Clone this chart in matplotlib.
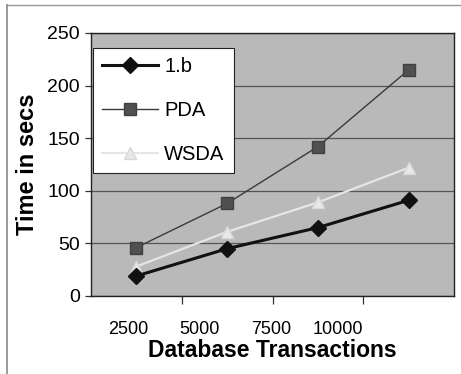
import matplotlib
matplotlib.use("Agg")
import matplotlib.pyplot as plt
from matplotlib.lines import Line2D

# data
categories = ["2500", "5000", "7500", "10000"]
series_1b = [19, 45, 65, 91]
series_pda = [46, 88, 142, 215]
series_wsda = [28, 61, 89, 122]
y_ticks = [0, 50, 100, 150, 200, 250]

plt.rcParams['font.family'] = ['Liberation Sans', 'DejaVu Sans']

fig = plt.figure(figsize=(4.61, 3.74), dpi=100)
ax = fig.add_axes([0.1974, 0.2086, 0.7876, 0.7032])
ax.set_facecolor('#b9b9b9')

x = list(range(len(categories)))

ax.plot(x, series_pda, color='#3a3a3a', lw=1.0, marker='s', ms=8,
        mfc='#505050', mec='#404040', label='PDA', zorder=3)
ax.plot(x, series_wsda, color='#e6e6e6', lw=1.6, marker='^', ms=8,
        mfc='#e8e8e8', mec='#d8d8d8', label='WSDA', zorder=3)
ax.plot(x, series_1b, color='#111111', lw=2.2, marker='D', ms=8.5,
        mfc='#111111', mec='#111111', label='1.b', zorder=4)

ax.set_xlim(-0.5, 3.5)
ax.set_ylim(0, 250)
ax.set_yticks(y_ticks)
ax.set_yticklabels([str(v) for v in y_ticks], fontsize=14)
ax.yaxis.grid(True, color='#555555', lw=0.9)
ax.set_axisbelow(True)

# category boundaries get the tick marks, labels sit a bit to the left
ax.set_xticks([0.5, 1.5, 2.5], minor=True)
ax.set_xticks([-0.09, 0.7, 1.49, 2.22])
ax.set_xticklabels(categories, fontsize=13)
ax.tick_params(axis='x', which='major', length=0, pad=18)
ax.tick_params(axis='x', which='minor', length=6, width=0.9, color='#333333')
ax.tick_params(axis='y', length=4, width=0.9, pad=4, color='#333333')

for s in ax.spines.values():
    s.set_color('#222222')
    s.set_linewidth(1.0)

ax.set_xlabel('Database Transactions', fontsize=16.5, fontweight='bold', labelpad=1)
ax.set_ylabel('Time in secs', fontsize=17, fontweight='bold', labelpad=6)

handles, labels = ax.get_legend_handles_labels()
order = [2, 0, 1]
leg = ax.legend([handles[i] for i in order], [labels[i] for i in order],
                loc='upper left', bbox_to_anchor=(0.005, 0.943), borderaxespad=0,
                fontsize=14.5, frameon=True, fancybox=False, framealpha=1,
                edgecolor='#222222', handlelength=2.8, labelspacing=1.25,
                handletextpad=0.3, borderpad=0.45)
leg.get_frame().set_linewidth(0.8)

# thin border of the scanned chart area
fig.add_artist(Line2D([7 / 461, 1], [1 - 5 / 374, 1 - 5 / 374],
                      transform=fig.transFigure, color='#999999', lw=1.0))
fig.add_artist(Line2D([7 / 461, 7 / 461], [0, 1 - 5 / 374],
                      transform=fig.transFigure, color='#888888', lw=1.2))

fig.savefig('out.png', dpi=100)
